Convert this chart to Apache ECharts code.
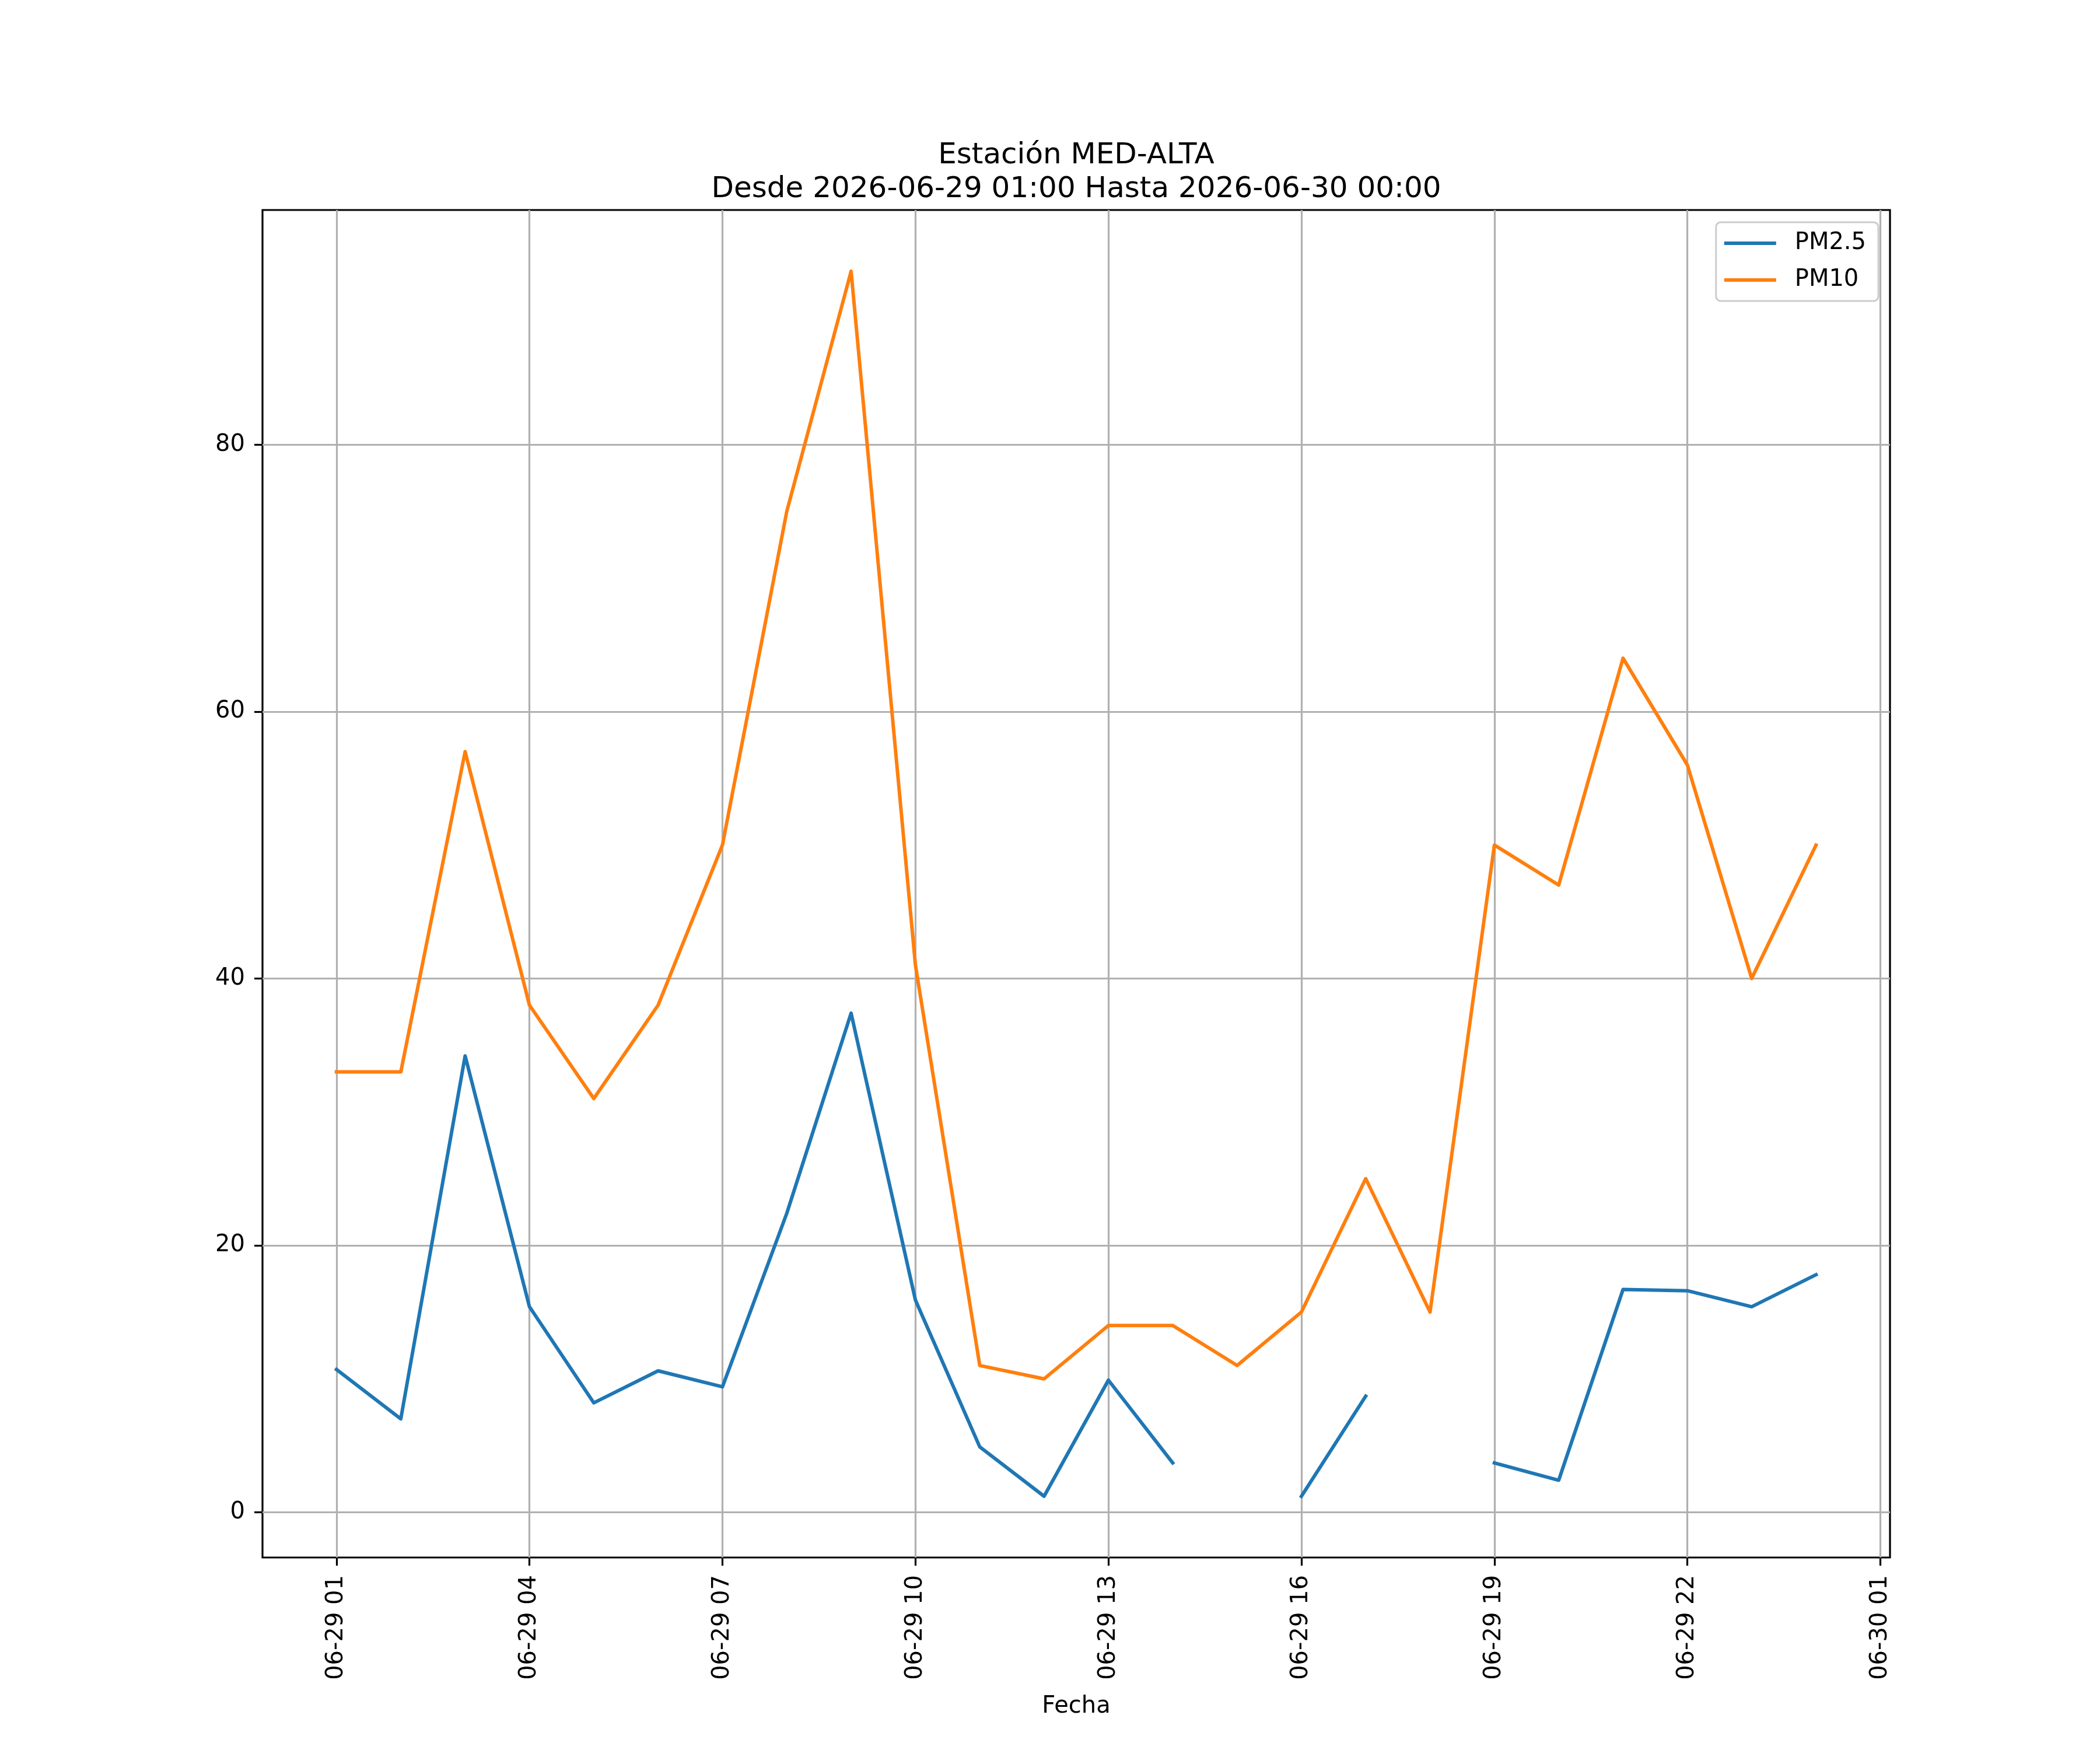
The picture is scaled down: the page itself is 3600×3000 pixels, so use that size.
<!DOCTYPE HTML>
<html>

<head>
	<meta charset="utf-8" />
	<title>Estación MED-ALTA</title>
	<script src="https://cdn.jsdelivr.net/npm/echarts@6/dist/echarts.min.js"></script>
	<style>
		body { margin: 0; background: #ffffff; }
	</style>
</head>

<body>
	<div id="main" style="width: 3600px;height:3000px;"></div>
	<script type="text/javascript">
		var titleLines = ["Estación MED-ALTA", "Desde 2026-06-29 01:00 Hasta 2026-06-30 00:00"];

		var times = [
			"2026-06-29 01:00", "2026-06-29 02:00", "2026-06-29 03:00", "2026-06-29 04:00",
			"2026-06-29 05:00", "2026-06-29 06:00", "2026-06-29 07:00", "2026-06-29 08:00",
			"2026-06-29 09:00", "2026-06-29 10:00", "2026-06-29 11:00", "2026-06-29 12:00",
			"2026-06-29 13:00", "2026-06-29 14:00", "2026-06-29 15:00", "2026-06-29 16:00",
			"2026-06-29 17:00", "2026-06-29 18:00", "2026-06-29 19:00", "2026-06-29 20:00",
			"2026-06-29 21:00", "2026-06-29 22:00", "2026-06-29 23:00", "2026-06-30 00:00"
		];
		var pm25 = [10.7, 7.0, 34.2, 15.4, 8.2, 10.6, 9.4, 22.4, 37.4, 15.9, 4.9, 1.2,
			9.9, 3.7, null, 1.2, 8.7, null, 3.7, 2.4, 16.7, 16.6, 15.4, 17.8];
		var pm10 = [33, 33, 57, 38, 31, 38, 50, 75, 93, 41, 11, 10,
			14, 14, 11, 15, 25, 15, 50, 47, 64, 56, 40, 50];

		var xTickLabels = ["2026-06-29 01:00", "2026-06-29 04:00", "2026-06-29 07:00", "2026-06-29 10:00",
			"2026-06-29 13:00", "2026-06-29 16:00", "2026-06-29 19:00", "2026-06-29 22:00", "2026-06-30 01:00"];
		var yTicks = [0, 20, 40, 60, 80];

		function toMs(s) {
			return new Date(s.replace(" ", "T") + ":00").getTime();
		}

		function pad(n) {
			return (n < 10 ? "0" : "") + n;
		}

		function fmtTick(v) {
			var d = new Date(v);
			return pad(d.getMonth() + 1) + "-" + pad(d.getDate()) + " " + pad(d.getHours());
		}

		function pairs(vals) {
			var out = [];
			for (var i = 0; i < times.length; i++) {
				out.push([toMs(times[i]), vals[i]]);
			}
			return out;
		}

		// autoscale like matplotlib (5% margins)
		var allVals = pm25.concat(pm10).filter(function (v) { return v !== null; });
		var yLo = Math.min.apply(null, allVals);
		var yHi = Math.max.apply(null, allVals);
		var ySpan = yHi - yLo;
		var t0 = toMs(times[0]);
		var t1 = toMs(times[times.length - 1]);
		var tSpan = t1 - t0;
		var xTicks = xTickLabels.map(toMs);

		var font = "DejaVu Sans";
		var myChart = echarts.init(document.getElementById("main"), null, { renderer: "canvas" });

		var option = {
			animation: false,
			textStyle: { fontFamily: font },
			graphic: [{
				type: "text",
				x: 1845,
				y: 238,
				style: {
					text: titleLines.join("\n"),
					fontFamily: font,
					fontSize: 50,
					lineHeight: 58,
					fill: "#000000",
					align: "center",
					verticalAlign: "top"
				}
			}],
			legend: {
				orient: "vertical",
				right: 380,
				top: 381,
				padding: [16, 21, 16, 14],
				itemGap: 23,
				itemWidth: 89,
				itemHeight: 6,
				icon: "rect",
				backgroundColor: "rgba(255,255,255,0.8)",
				borderColor: "#cccccc",
				borderWidth: 3,
				borderRadius: 8,
				textStyle: {
					fontFamily: font,
					fontSize: 40,
					color: "#000000",
					lineHeight: 40,
					padding: [0, 0, 0, 27]
				},
				data: ["PM2.5", "PM10"]
			},
			grid: {
				left: 450,
				right: 360,
				top: 360,
				bottom: 330,
				show: true,
				borderColor: "#000000",
				borderWidth: 3.2,
				backgroundColor: "transparent",
				containLabel: false,
				outerBoundsMode: "none"
			},
			xAxis: {
				type: "value",
				min: t0 - tSpan * 0.05,
				max: t1 + tSpan * 0.05,
				name: "Fecha",
				nameLocation: "middle",
				nameGap: 236,
				nameTextStyle: { fontFamily: font, fontSize: 40, color: "#000000" },
				axisLine: { show: false, onZero: false },
				axisTick: {
					show: true,
					length: 14,
					customValues: xTicks,
					lineStyle: { color: "#000000", width: 3.2 }
				},
				axisLabel: {
					customValues: xTicks,
					rotate: 90,
					margin: 30,
					fontFamily: font,
					fontSize: 40,
					color: "#000000",
					hideOverlap: false,
					formatter: fmtTick
				},
				splitLine: { show: true, lineStyle: { color: "#b0b0b0", width: 3.2 } }
			},
			yAxis: {
				type: "value",
				min: yLo - ySpan * 0.05,
				max: yHi + ySpan * 0.05,
				axisLine: { show: false, onZero: false },
				axisTick: {
					show: true,
					length: 14,
					customValues: yTicks,
					lineStyle: { color: "#000000", width: 3.2 }
				},
				axisLabel: {
					customValues: yTicks,
					margin: 30,
					fontFamily: font,
					fontSize: 40,
					color: "#000000"
				},
				splitLine: { show: true, lineStyle: { color: "#b0b0b0", width: 3.2 } }
			},
			series: [{
				name: "PM2.5",
				type: "line",
				showSymbol: false,
				connectNulls: false,
				color: "#1f77b4",
				lineStyle: { color: "#1f77b4", width: 6, join: "round", cap: "square" },
				data: pairs(pm25)
			}, {
				name: "PM10",
				type: "line",
				showSymbol: false,
				connectNulls: false,
				color: "#ff7f0e",
				lineStyle: { color: "#ff7f0e", width: 6, join: "round", cap: "square" },
				data: pairs(pm10)
			}]
		};

		myChart.setOption(option);
	</script>
</body>

</html>
